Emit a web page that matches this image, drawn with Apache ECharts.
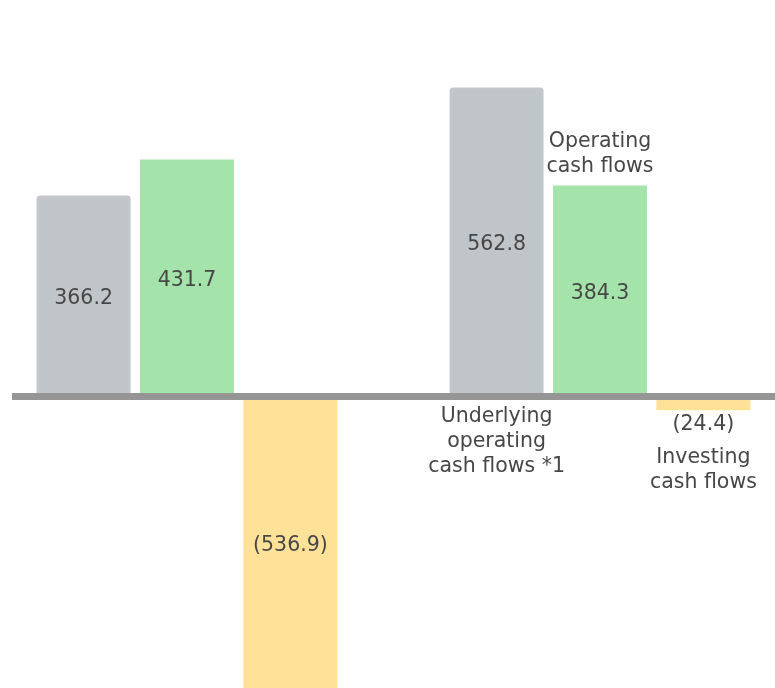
<!DOCTYPE html>
<html>
<head>
<meta charset="utf-8">
<script src="https://cdn.jsdelivr.net/npm/echarts@6/dist/echarts.min.js"></script>
<style>
    html, body { margin: 0; padding: 0; background: #fff; }
    #chart { width: 775px; height: 688px; }
</style>
</head>
<body>
<div id="chart"></div>
<script>
    // periods (no axis labels are shown in the picture)
    const periods = ["Prior period", "Current period"];
    const seriesNames = ["Underlying operating cash flows *1", "Operating cash flows", "Investing cash flows"];
    const nameLines = [["Underlying", "operating", "cash flows *1"], ["Operating", "cash flows"], ["Investing", "cash flows"]];
    const underlyingOp = [366.2, 562.8];
    const operating = [431.7, 384.3];
    const investing = [-536.9, -24.4];

    const colors = ["#c0c5c9", "#a4e3a9", "#ffe198"];
    const textColor = "#474747";
    const font = "DejaVu Sans";

    const fmt = v => v < 0 ? "(" + Math.abs(v).toFixed(1) + ")" : v.toFixed(1);

    // short bars get their number outside
    const toData = arr => arr.map(v => Math.abs(v) < 60
        ? { value: v, label: { position: "outside", distance: 4, offset: [0, 0] } }
        : v);

    const commonLabel = {
        show: true,
        position: "inside",
        offset: [0, 3],
        color: textColor,
        fontFamily: font,
        fontSize: 20.5,
        formatter: p => fmt(p.value)
    };

    // series names are written next to the second group of bars
    const nameMark = (idx, value, position, distance) => ({
        symbol: "rect",
        symbolSize: 0,
        silent: true,
        data: [{ coord: [periods[1], value] }],
        label: {
            show: true,
            position: position,
            distance: distance,
            color: textColor,
            fontFamily: font,
            fontSize: 20.5,
            lineHeight: 25,
            align: "center",
            formatter: nameLines[idx].join("\n")
        }
    });

    const chart = echarts.init(document.getElementById("chart"));
    const option = {
        animation: false,
        grid: [
            { left: -19.5, right: -31.5, top: 12, bottom: 0, outerBoundsMode: "none" },
            { left: 12, right: 0, top: 12, bottom: 0, outerBoundsMode: "none" }
        ],
        xAxis: [
            {
                type: "category",
                gridIndex: 0,
                data: periods,
                axisLine: { show: false },
                axisTick: { show: false },
                axisLabel: { show: false }
            },
            {
                // the zero line
                type: "value",
                gridIndex: 1,
                min: 0,
                max: 1,
                z: 10,
                axisLine: { show: true, onZero: true, lineStyle: { color: "#959595", width: 7, cap: "butt" } },
                axisTick: { show: false },
                axisLabel: { show: false },
                splitLine: { show: false }
            }
        ],
        yAxis: [
            { type: "value", gridIndex: 0, min: -530, max: 700, show: false, splitLine: { show: false } },
            { type: "value", gridIndex: 1, min: -530, max: 700, show: false, splitLine: { show: false } }
        ],
        series: [
            {
                name: seriesNames[0],
                type: "bar",
                barWidth: 94,
                barGap: "10%",
                itemStyle: { color: colors[0], borderColor: "#c3c7cb", borderWidth: 3, borderRadius: [2, 2, 0, 0] },
                label: commonLabel,
                data: toData(underlyingOp),
                markPoint: nameMark(0, 0, "bottom", 7)
            },
            {
                name: seriesNames[1],
                type: "bar",
                barWidth: 94,
                barGap: "10%",
                itemStyle: { color: colors[1] },
                label: commonLabel,
                data: toData(operating),
                markPoint: nameMark(1, operating[1], "top", 6)
            },
            {
                name: seriesNames[2],
                type: "bar",
                barWidth: 94,
                barGap: "10%",
                itemStyle: { color: colors[2] },
                label: commonLabel,
                data: toData(investing),
                markPoint: nameMark(2, investing[1], "bottom", 35)
            }
        ]
    };
    chart.setOption(option);
</script>
</body>
</html>
